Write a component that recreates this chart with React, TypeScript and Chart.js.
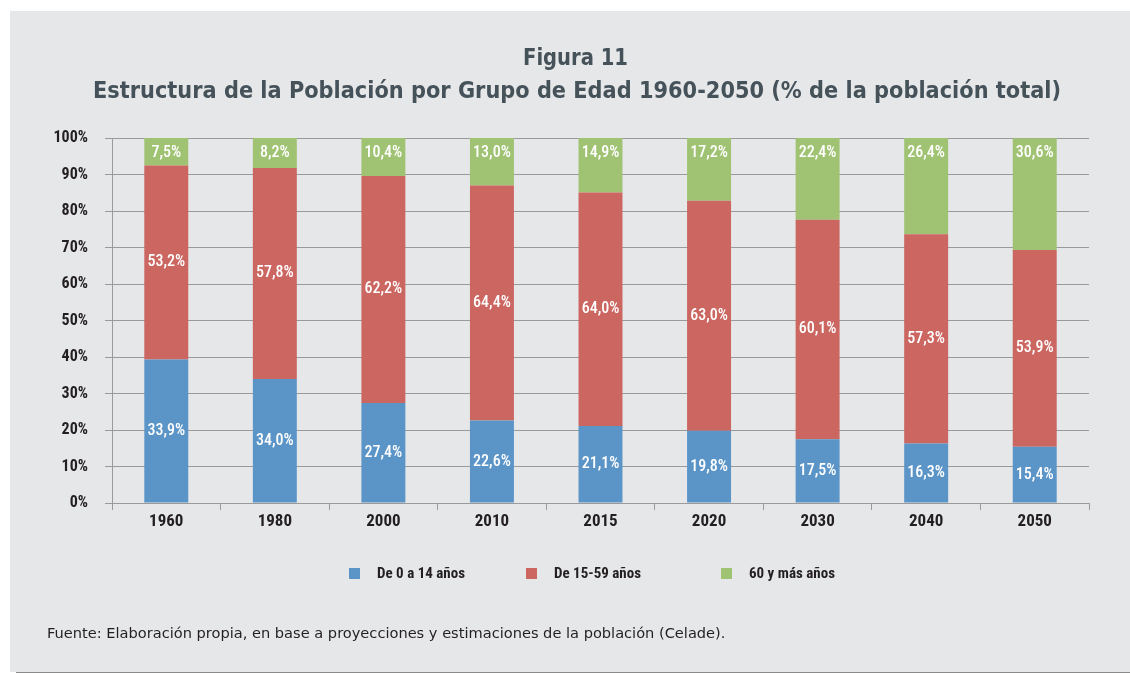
import React, { useEffect, useRef } from "react";
import { Chart, registerables } from "chart.js";

Chart.register(...registerables);

const categories = ["1960", "1980", "2000", "2010", "2015", "2020", "2030", "2040", "2050"];
const seriesNames = ["De 0 a 14 años", "De 15-59 años", "60 y más años"];
// bar heights (% of total)
const young = [39.3, 34.0, 27.4, 22.6, 21.1, 19.8, 17.5, 16.3, 15.4];
const adult = [53.2, 57.8, 62.2, 64.4, 64.0, 63.0, 60.1, 57.3, 53.9];
const elder = [7.5, 8.2, 10.4, 13.0, 14.9, 17.2, 22.4, 26.4, 30.6];
// printed labels (as shown in the source figure)
const youngLabels = [33.9, 34.0, 27.4, 22.6, 21.1, 19.8, 17.5, 16.3, 15.4];
const adultLabels = [53.2, 57.8, 62.2, 64.4, 64.0, 63.0, 60.1, 57.3, 53.9];
const elderLabels = [7.5, 8.2, 10.4, 13.0, 14.9, 17.2, 22.4, 26.4, 30.6];
const yTicks = [0, 10, 20, 30, 40, 50, 60, 70, 80, 90, 100];

const colors = ["#5b95c7", "#cb6661", "#a0c373"];
const titleLines = ["Figura 11", "Estructura de la Población por Grupo de Edad 1960-2050 (% de la población total)"];
const source = "Fuente: Elaboración propia, en base a proyecciones y estimaciones de la población (Celade).";

const COND = "'Roboto Condensed', 'Open Sans Condensed', sans-serif";
const fmt = (v: number) => v.toFixed(1).replace(".", ",") + "%";

function fitText(ctx: CanvasRenderingContext2D, text: string, cx: number, y: number, width: number) {
  const w = ctx.measureText(text).width;
  const s = Math.min(1, width / w);
  ctx.save();
  ctx.translate(cx, y);
  ctx.scale(s, 1);
  ctx.fillText(text, 0, 0);
  ctx.restore();
}

export default function App() {
  const ref = useRef<HTMLCanvasElement | null>(null);
  useEffect(() => {
    if (!ref.current) return;
    const labelSets = [youngLabels, adultLabels, elderLabels];
    const decor = {
      id: "decor",
      afterDatasetsDraw(chart: any) {
        const ctx = chart.ctx;
        ctx.save();
        ctx.fillStyle = "#ffffff";
        ctx.font = `500 16px ${COND}`;
        ctx.textAlign = "center";
        ctx.textBaseline = "middle";
        chart.data.datasets.forEach((ds: any, i: number) => {
          const meta = chart.getDatasetMeta(i);
          meta.data.forEach((el: any, j: number) => {
            const cy = (el.y + el.base) / 2;
            const ly = i === 2 ? el.y + 15 : cy;
            ctx.fillText(fmt(labelSets[i][j]), el.x, ly);
          });
        });
        ctx.restore();
      },
      afterDraw(chart: any) {
        const ctx = chart.ctx;
        ctx.save();
        // title
        ctx.fillStyle = "#46525a";
        ctx.textAlign = "center";
        ctx.textBaseline = "alphabetic";
        ctx.font = `bold 23px 'DejaVu Sans', sans-serif`;
        fitText(ctx, titleLines[0], 575.5, 65, 105);
        fitText(ctx, titleLines[1], 577, 98, 968);
        // legend
        const starts = [349, 526, 721];
        ctx.font = `bold 15px ${COND}`;
        ctx.textAlign = "left";
        ctx.textBaseline = "middle";
        chart.data.datasets.forEach((ds: any, i: number) => {
          ctx.fillStyle = ds.backgroundColor;
          ctx.fillRect(starts[i], 568, 11, 11);
          ctx.fillStyle = "#231f20";
          ctx.fillText(ds.label, starts[i] + 28, 574);
        });
        // source
        ctx.font = `14.6px 'DejaVu Sans', sans-serif`;
        ctx.fillStyle = "#231f20";
        ctx.textBaseline = "alphabetic";
        ctx.fillText(source, 47, 638);
        ctx.restore();
      },
    };
    const chart = new Chart(ref.current, {
      type: "bar",
      data: {
        labels: categories,
        datasets: [young, adult, elder].map((d, i) => ({
          label: seriesNames[i],
          data: d,
          backgroundColor: colors[i],
          borderWidth: 0,
          barPercentage: 0.81,
          categoryPercentage: 0.5,
        })),
      },
      options: {
        responsive: false,
        animation: false,
        devicePixelRatio: 1,
        layout: { padding: { left: 0, right: 41, top: 138, bottom: 0 } },
        plugins: {
          legend: { display: false },
          title: { display: false },
          tooltip: { enabled: false },
        },
        scales: {
          x: {
            stacked: true,
            afterFit: (s: any) => { s.height = 172; },
            grid: { display: true, drawOnChartArea: false, drawTicks: true, tickLength: 7, color: "#9a9a9a", offset: true },
            border: { color: "#9a9a9a" },
            ticks: { color: "#231f20", font: { family: COND, size: 17, weight: "bold" }, padding: 2 },
          },
          y: {
            stacked: true,
            min: 0,
            max: 100,
            afterFit: (s: any) => { s.width = 112; },
            afterBuildTicks: (s: any) => { s.ticks = yTicks.map((v) => ({ value: v })); },
            grid: { color: "#9a9a9a", tickLength: 7 },
            border: { color: "#9a9a9a" },
            ticks: {
              color: "#231f20",
              font: { family: COND, size: 16, weight: "bold" },
              padding: 17,
              callback: (v: any) => v + "%",
            },
          },
        },
      },
      plugins: [decor],
    });
    return () => chart.destroy();
  }, []);
  return (
    <div style={{ position: "fixed", left: 0, top: 0, width: 1130, height: 675, background: "#ffffff" }}>
      <div style={{ position: "absolute", left: 10, top: 11, width: 1120, height: 661, background: "#e6e7e9" }} />
      <div style={{ position: "absolute", left: 16, top: 672, width: 1114, height: 1, background: "#8a8a8a" }} />
      <canvas ref={ref} width={1130} height={675} style={{ position: "absolute", left: 0, top: 0 }} />
    </div>
  );
}
